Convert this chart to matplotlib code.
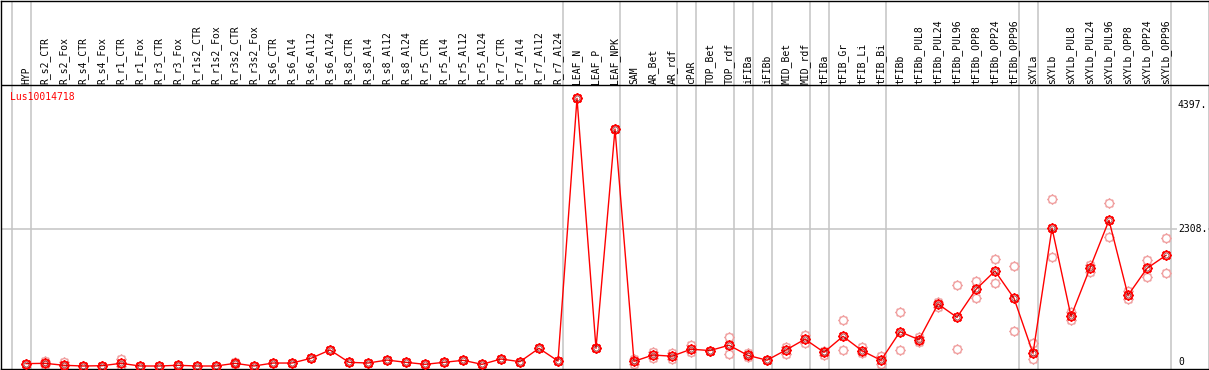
import numpy as np
import matplotlib
matplotlib.use("Agg")
import matplotlib.pyplot as plt
from matplotlib.path import Path

# sample labels (column order)
labels = ["HYP",
          "R_s2_CTR", "R_s2_Fox", "R_s4_CTR", "R_s4_Fox", "R_r1_CTR", "R_r1_Fox",
          "R_r3_CTR", "R_r3_Fox", "R_r1s2_CTR", "R_r1s2_Fox", "R_r3s2_CTR", "R_r3s2_Fox",
          "R_s6_CTR", "R_s6_Al4", "R_s6_Al12", "R_s6_Al24",
          "R_s8_CTR", "R_s8_Al4", "R_s8_Al12", "R_s8_Al24",
          "R_r5_CTR", "R_r5_Al4", "R_r5_Al12", "R_r5_Al24",
          "R_r7_CTR", "R_r7_Al4", "R_r7_Al12", "R_r7_Al24",
          "LEAF_N", "LEAF_P", "LEAF_NPK",
          "SAM", "AR_Bet", "AR_rdf", "cPAR", "TOP_Bet", "TOP_rdf",
          "iFIBa", "iFIBb", "MID_Bet", "MID_rdf", "tFIBa",
          "tFIB_Gr", "tFIB_Li", "tFIB_Bi",
          "tFIBb", "tFIBb_PUL8", "tFIBb_PUL24", "tFIBb_PUL96",
          "tFIBb_OPP8", "tFIBb_OPP24", "tFIBb_OPP96",
          "sXYLa", "sXYLb", "sXYLb_PUL8", "sXYLb_PUL24", "sXYLb_PUL96",
          "sXYLb_OPP8", "sXYLb_OPP24", "sXYLb_OPP96"]

# mean expression
means = [40, 45, 12, 0, 5, 45, 0, 0, 12, 0, 0, 45, 0,
         50, 50, 130, 270, 62, 50, 100, 62, 28, 62, 96, 28, 118, 73, 298, 84,
         4510, 298, 3993,
         79, 185, 165, 283, 260, 350, 178, 98, 270, 452, 231,
         500, 258, 96,
         578, 443, 1045, 820, 1292, 1601, 1141,
         214, 2325, 837, 1651, 2455, 1191, 1646, 1865]

# replicate values (upper / lower)
rep_hi = [40, 84, 67, 0, 5, 113, 0, 0, 20, 0, 0, 60, 0,
          50, 50, 130, 270, 62, 50, 100, 62, 28, 62, 96, 28, 118, 73, 298, 84,
          4510, 298, 3993,
          110, 240, 215, 350, 260, 494, 215, 98, 325, 525, 260,
          775, 325, 174,
          904, 490, 1083, 1360, 1432, 1798, 1680,
          382, 2809, 915, 1702, 2741, 1264, 1786, 2152]
rep_lo = [40, 10, 0, 0, 5, 0, 0, 0, 5, 0, 0, 30, 0,
          50, 50, 130, 270, 62, 50, 100, 62, 28, 62, 96, 28, 118, 73, 298, 84,
          4510, 298, 3993,
          40, 140, 125, 240, 260, 202, 150, 98, 197, 382, 185,
          270, 214, 28,
          264, 400, 999, 286, 1141, 1393, 585,
          113, 1831, 775, 1589, 2174, 1129, 1505, 1562]

# group boundaries (line drawn right after these columns)
group_ends = [-1, 0, 28, 31, 34, 35, 37, 38, 39, 41, 42, 45, 52, 53, 60]

gene = "Lus10014718"
ytick_vals = [4397, 2308]
ytick_text = ["4397.", "2308."]

W, H = 1209, 370
fig = plt.figure(figsize=(W / 100, H / 100), dpi=100)
ax = fig.add_axes([0.5 / W, 1.5 / H, (W - 1) / W, (H - 2) / H])

# pixel -> data helpers
px = lambda p: (p - 26) / 19.0
py = lambda r: (366 - r) * 16.85

ax.set_xlim(px(0.5), px(1208.5))
ax.set_ylim(py(368.5), py(0.5))
ax.set_xticks([])
ax.set_yticks([])
for s in ax.spines.values():
    s.set_color("black")
    s.set_linewidth(1)

for g in group_ends:
    ax.axvline(g + 4.6 / 19, color="#c4c4c4", lw=1.1, zorder=0)
ax.axhline(2308, color="#c4c4c4", lw=1.1, zorder=0)
ax.axhline(py(85), color="black", lw=1, zorder=1)

mono = "DejaVu Sans Mono"
for i, lab in enumerate(labels):
    ax.text(i, py(83.5), lab, rotation=90, ha="center", va="bottom",
            fontsize=7, family=mono)

ax.text(px(10), py(97.5), gene, color="red", fontsize=7, family=mono,
        ha="left", va="center")

for v, t in zip(ytick_vals, ytick_text):
    ax.text(px(1178), v, t, fontsize=7, family=mono, ha="left", va="center",
            bbox=dict(facecolor="white", edgecolor="none", pad=0.5))
ax.text(px(1178), py(362), "0", fontsize=7, family=mono, ha="left", va="center")

# sun-like marker: ring plus short ticks
ring = Path.unit_circle()
ticks = []
for a in np.arange(0, 2 * np.pi, np.pi / 4):
    ticks.append(Path([(np.cos(a), np.sin(a)), (1.3 * np.cos(a), 1.3 * np.sin(a))],
                      [Path.MOVETO, Path.LINETO]))
sun = Path.make_compound_path(ring, *ticks)

x = np.arange(len(labels))
ax.plot(x, rep_hi, ls="none", marker=sun, ms=7.5, mfc="none", mec="#f0a0a0", mew=1, zorder=2)
ax.plot(x, rep_lo, ls="none", marker=sun, ms=7.5, mfc="none", mec="#f0a0a0", mew=1, zorder=2)
ax.plot(x, means, color="red", lw=1, zorder=3)
ax.plot(x, means, ls="none", marker=sun, ms=7.5, mfc="none", mec="red", mew=1.2, zorder=4)
ax.plot(x, means, ls="none", marker="o", ms=3.6, mfc="none", mec="#700000", mew=0.4, zorder=5)

fig.savefig("out.png", dpi=100)
